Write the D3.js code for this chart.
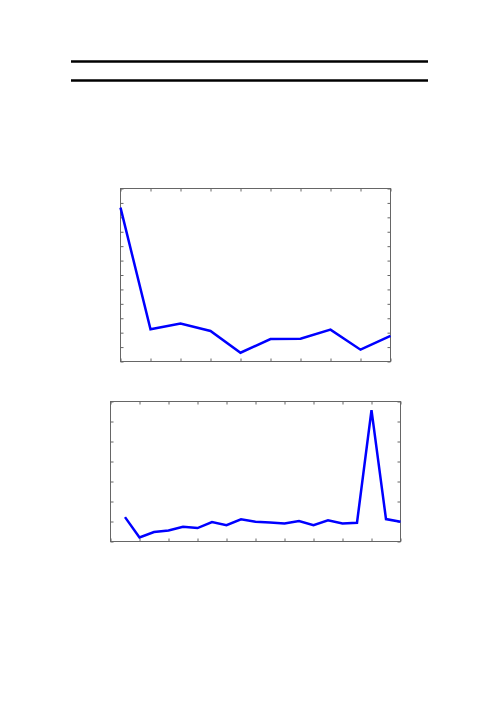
<!DOCTYPE html>
<html><head><meta charset="utf-8">
<script src="https://cdn.jsdelivr.net/npm/d3@7"></script>
<style>html,body{margin:0;padding:0;background:#fff;}svg{display:block;}</style>
</head><body>
<script>
// Chart 1 data
const x1 = [0,1,2,3,4,5,6,7,8,9];
const y1 = [10.67,2.24,2.63,2.12,0.61,1.56,1.58,2.21,0.82,1.77];
const x1Ticks = d3.range(0,10,1);
const y1Ticks = d3.range(0,13,1);
// Chart 2 data
const x2 = d3.range(1,21,1);
const y2 = [1.22,0.20,0.47,0.55,0.74,0.67,0.97,0.82,1.11,0.99,0.95,0.90,1.02,0.82,1.06,0.90,0.94,6.57,1.12,0.99];
const x2Ticks = d3.range(0,21,2);
const y2Ticks = d3.range(0,8,1);

const svg = d3.select("body").append("svg").attr("width",499).attr("height",706);

// rules at top
[61.5, 80.5].forEach(y=>{
  svg.append("line").attr("x1",71).attr("x2",428).attr("y1",y).attr("y2",y)
    .attr("stroke","#000").attr("stroke-width",2.6);
});

function panel(box, xd, yd, xt, yt, xs, ys){
  const x = d3.scaleLinear().domain(xd).range([box.l, box.r]);
  const y = d3.scaleLinear().domain(yd).range([box.b, box.t]);
  const g = svg.append("g");
  const tl = 3;
  const fmt = ()=>"";
  const style = sel=>{
    sel.select(".domain").remove();
    sel.selectAll(".tick line").attr("stroke","#666").attr("stroke-width",1);
  };
  g.append("g").attr("transform",`translate(0,${box.b})`)
    .call(d3.axisBottom(x).tickValues(xt).tickSize(-tl).tickFormat(fmt)).call(style);
  g.append("g").attr("transform",`translate(0,${box.t})`)
    .call(d3.axisTop(x).tickValues(xt).tickSize(-tl).tickFormat(fmt)).call(style);
  g.append("g").attr("transform",`translate(${box.l},0)`)
    .call(d3.axisLeft(y).tickValues(yt).tickSize(-tl).tickFormat(fmt)).call(style);
  g.append("g").attr("transform",`translate(${box.r},0)`)
    .call(d3.axisRight(y).tickValues(yt).tickSize(-tl).tickFormat(fmt)).call(style);
  g.append("rect").attr("x",box.l).attr("y",box.t).attr("width",box.r-box.l).attr("height",box.b-box.t)
    .attr("fill","none").attr("stroke","#666").attr("stroke-width",1);
  const line = d3.line().x(d=>x(d[0])).y(d=>y(d[1]));
  g.append("path").datum(xs.map((v,i)=>[v,ys[i]]))
    .attr("d",line).attr("fill","none").attr("stroke","#0000ff").attr("stroke-width",2.5)
    .attr("stroke-linejoin","miter");
}

panel({l:120.5,r:390.5,t:188.5,b:361.5}, [0,9], [0,12], x1Ticks, y1Ticks, x1, y1);
panel({l:110.5,r:400.5,t:401.5,b:541.5}, [0,20], [0,7], x2Ticks, y2Ticks, x2, y2);
</script>
</body></html>
